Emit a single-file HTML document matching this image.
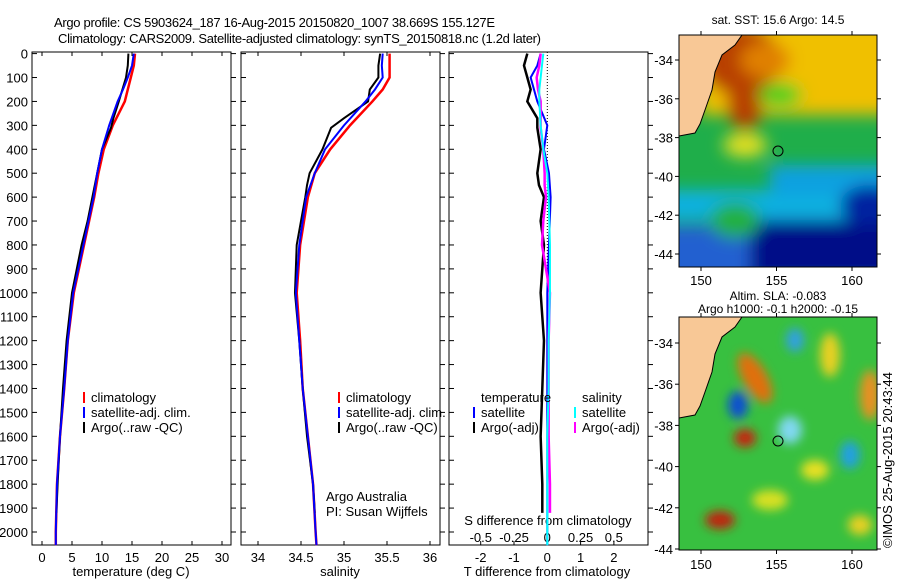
<!DOCTYPE html>
<html><head><meta charset="utf-8"><style>
body{margin:0;background:#fff;width:900px;height:580px;overflow:hidden;font-family:"Liberation Sans",sans-serif}
svg text{font-family:"Liberation Sans",sans-serif;font-size:13px;fill:#000}
</style></head><body>
<svg id="c" width="900" height="580" xmlns="http://www.w3.org/2000/svg">
<defs>
<filter id="bl" x="-50%" y="-50%" width="200%" height="200%"><feGaussianBlur stdDeviation="8"/></filter>
<filter id="bl2" x="-50%" y="-50%" width="200%" height="200%"><feGaussianBlur stdDeviation="5"/></filter>
<clipPath id="m1c"><rect x="679" y="35" width="198" height="232"/></clipPath>
<clipPath id="m2c"><rect x="679" y="317" width="198" height="233"/></clipPath>
</defs>
<text x="54" y="27" style="font-size:13px" textLength="441">Argo profile: CS 5903624_187 16-Aug-2015 20150820_1007 38.669S 155.127E</text>
<text x="58" y="43" style="font-size:13px" textLength="483">Climatology: CARS2009. Satellite-adjusted climatology: synTS_20150818.nc (1.2d later)</text>
<g id="g"></g>
<!-- map 1 -->
<g clip-path="url(#m1c)">
<rect x="679" y="35" width="198" height="232" fill="#1fae4a"/>
<g filter="url(#bl)">
<rect x="700" y="20" width="200" height="95" fill="#f0c000"/>
<ellipse cx="740" cy="60" rx="40" ry="35" fill="#b84000"/>
<ellipse cx="745" cy="105" rx="18" ry="25" fill="#b84000"/>
<ellipse cx="765" cy="60" rx="25" ry="18" fill="#e08000"/>
<ellipse cx="780" cy="95" rx="22" ry="12" fill="#40d020"/>
<ellipse cx="745" cy="145" rx="22" ry="12" fill="#e8e020"/>
<rect x="660" y="190" width="260" height="30" fill="#10b0e0"/>
<rect x="770" y="165" width="130" height="30" fill="#10a0e0"/>
<rect x="660" y="225" width="260" height="60" fill="#2060d0"/>
<rect x="750" y="220" width="160" height="60" fill="#000a88"/>
<ellipse cx="870" cy="205" rx="30" ry="20" fill="#0020a0"/>
<ellipse cx="735" cy="220" rx="25" ry="18" fill="#20b040"/>
</g>
<polygon points="679,35 742,35 735,45 722,55 715,72 712,90 705,110 700,124 695,133 679,136" fill="#f8c896" stroke="#000" stroke-width="1"/>
<circle cx="778" cy="151" r="5" fill="none" stroke="#000"/>
</g>
<rect x="679" y="35" width="198" height="232" fill="none" stroke="#000"/>
<!-- map 2 -->
<g clip-path="url(#m2c)">
<rect x="679" y="317" width="198" height="233" fill="#38c040"/>
<g filter="url(#bl2)">
<ellipse cx="755" cy="378" rx="12" ry="28" fill="#e07010" transform="rotate(-30 755 378)"/>
<ellipse cx="738" cy="405" rx="10" ry="14" fill="#1050d0"/>
<ellipse cx="745" cy="438" rx="11" ry="9" fill="#c82010"/>
<ellipse cx="795" cy="340" rx="9" ry="12" fill="#30a0e0"/>
<ellipse cx="830" cy="355" rx="10" ry="22" fill="#e8d020"/>
<ellipse cx="870" cy="395" rx="10" ry="25" fill="#e89020"/>
<ellipse cx="720" cy="520" rx="15" ry="9" fill="#c02010"/>
<ellipse cx="790" cy="430" rx="12" ry="14" fill="#80d8f0"/>
<ellipse cx="815" cy="470" rx="14" ry="10" fill="#e8e020"/>
<ellipse cx="770" cy="500" rx="18" ry="10" fill="#d8e020"/>
<ellipse cx="850" cy="455" rx="10" ry="14" fill="#20a0e0"/>
<ellipse cx="860" cy="525" rx="12" ry="10" fill="#e8d020"/>
</g>
<polygon points="679,317 742,317 735,327 722,337 715,354 712,372 705,392 700,406 695,415 679,418" fill="#f8c896" stroke="#000"/>
<circle cx="778" cy="441" r="5" fill="none" stroke="#000"/>
</g>
<rect x="679" y="317" width="198" height="233" fill="none" stroke="#000"/>
<text x="778" y="24" text-anchor="middle" style="font-size:12px">sat. SST: 15.6 Argo: 14.5</text>
<text x="778" y="300" text-anchor="middle" style="font-size:12px">Altim. SLA: -0.083</text>
<text x="778" y="313" text-anchor="middle" style="font-size:12px">Argo h1000: -0.1 h2000: -0.15</text>
<text x="892" y="548" transform="rotate(-90 892 548)">©IMOS 25-Aug-2015 20:43:44</text>
</svg>
<script>
const NS="http://www.w3.org/2000/svg";
const g=document.getElementById('g');
// ---- data ----
const depthTicks=[0,100,200,300,400,500,600,700,800,900,1000,1100,1200,1300,1400,1500,1600,1700,1800,1900,2000];
const tempTicks=[0,5,10,15,20,25,30];
const salTicks=[34,34.5,35,35.5,36];
const tdiffTicks=[-2,-1,0,1,2];
const sdiffTicks=[-0.5,-0.25,0,0.25,0.5];
const sdiffLabels=["-0.5","-0.25","0","0.25","0.5"];
const depths=[0,50,100,150,200,300,400,500,600,800,1000,1200,1400,1600,1800,2000,2055];
const tempClim=[15.5,15.3,14.8,14.3,13.8,11.8,10.3,9.4,8.7,7.0,5.3,4.3,3.7,3.0,2.5,2.3,2.3];
const tempSat=[15.3,15.0,14.3,13.5,12.6,11.2,10.0,9.2,8.6,6.9,5.2,4.3,3.7,3.0,2.5,2.3,2.3];
const argoDepths=[0,50,100,150,200,270,310,400,500,550,600,700,800,1000,1200,1400,1600,1800,1920];
const tempArgo=[14.4,14.3,14.0,13.4,12.8,11.9,11.5,10.0,9.2,8.8,8.4,7.6,6.6,5.0,4.1,3.5,3.0,2.6,2.4];
const salClim=[35.53,35.53,35.53,35.45,35.33,35.07,34.84,34.66,34.58,34.49,34.45,34.49,34.52,34.58,34.64,34.67,34.68];
const salSat=[35.45,35.44,35.45,35.36,35.25,35.0,34.78,34.66,34.56,34.48,34.44,34.48,34.52,34.58,34.64,34.67,34.68];
const salArgo=[35.42,35.4,35.4,35.3,35.28,35.0,34.85,34.75,34.6,34.57,34.55,34.5,34.45,34.43,34.48,34.52,34.57,34.64,34.66];
const tdiffSat=[-0.2,-0.3,-0.5,-0.4,-0.3,0,-0.1,0.05,0.1,0.05,0,0,0,0,0,0,0];
const tdiffArgo=[-0.6,-0.7,-0.6,-0.5,-0.6,-0.3,-0.3,-0.2,-0.3,-0.25,-0.1,-0.2,-0.1,-0.2,-0.1,-0.15,-0.2,-0.15,-0.15];
const sdiffSat=[-0.03,-0.04,-0.05,-0.06,-0.06,-0.05,-0.03,0,0.01,0.02,0.02,0.01,0.01,0,0,0,0];
const sdiffArgo=[-0.05,-0.06,-0.08,-0.07,-0.05,-0.05,-0.05,-0.03,-0.02,-0.02,-0.01,-0.03,-0.04,0.02,0.01,0.01,0.01,0.02,0.02];
const lonTicks=[150,155,160];
const latTicks=[-34,-36,-38,-40,-42,-44];
// ---- axes ----
const yD=d=>53.6+d*0.2392;
const xT=t=>42+t*6;
const xS=s=>258+(s-34)*86;
const xTD=t=>547.3+t*33.3;
const xSD=s=>547.3+s*133;
function el(t,a,txt){const e=document.createElementNS(NS,t);for(const k in a)e.setAttribute(k,a[k]);if(txt!==undefined)e.textContent=txt;g.appendChild(e);return e;}
const panels=[[32,'temperature-panel'],[241,'salinity-panel'],[449,'difference-panel']];
panels.forEach(([x0,n])=>{
 const r=el('rect',{x:x0,y:52,width:199,height:493,fill:'none',stroke:'#000'});
 
 
 depthTicks.forEach(d=>{
  const y=yD(d);
  el('line',{x1:x0,x2:x0+5,y1:y,y2:y,stroke:'#000'});
  el('line',{x1:x0+199,x2:x0+204,y1:y,y2:y,stroke:'#000'});
 });
});
depthTicks.forEach(d=>{
 const t=el('text',{x:28,y:yD(d)+5,'text-anchor':'end'},String(d));
 
 
});
function xticks(arr,f,labels,y,top){
 arr.forEach((v,i)=>{const x=f(v);
  el('line',{x1:x,x2:x,y1:545,y2:541,stroke:'#000'});
  if(top)el('line',{x1:x,x2:x,y1:52,y2:56,stroke:'#000'});
  const t=el('text',{x:x,y:y,'text-anchor':'middle'},labels?labels[i]:String(v));
  
  
 });
}
xticks(tempTicks,xT,null,562,true);
xticks(salTicks,xS,null,562,true);
xticks(tdiffTicks,xTD,null,562,false);
sdiffTicks.forEach((v,i)=>{const t=el('text',{x:xSD(v),y:542,'text-anchor':'middle'},sdiffLabels[i]);
 
 });
[[131,'temperature (deg C)','temperature-axis-title'],[340,'salinity','salinity-axis-title'],[547,'T difference from climatology','t-diff-axis-title']].forEach(([x,s,n])=>{
 const t=el('text',{x:x,y:576,'text-anchor':'middle'},s);
 
 
});
const st=el('text',{x:548,y:525,'text-anchor':'middle'},'S difference from climatology');


el('line',{x1:547.3,x2:547.3,y1:52,y2:545,stroke:'#000','stroke-dasharray':'1,2'});
function line(ds,vs,f,col,w,name){
 const p=el('polyline',{points:ds.map((d,i)=>f(vs[i])+','+yD(d)).join(' '),fill:'none',stroke:col,'stroke-width':w});
 
 
}
line(depths,tempClim,xT,'#f00',2.5,'temp-climatology-line');
line(argoDepths,tempArgo,xT,'#000',2,'temp-argo-line');
line(depths,tempSat,xT,'#00f',2,'temp-satellite-line');
line(depths,salClim,xS,'#f00',2.5,'sal-climatology-line');
line(argoDepths,salArgo,xS,'#000',2,'sal-argo-line');
line(depths,salSat,xS,'#00f',2,'sal-satellite-line');
line(argoDepths,tdiffArgo,xTD,'#000',2.5,'tdiff-argo-line');
line(depths,tdiffSat,xTD,'#00f',2,'tdiff-satellite-line');
line(argoDepths,sdiffArgo,xSD,'#f0f',2.5,'sdiff-argo-line');
line(depths,sdiffSat,xSD,'#0ff',2,'sdiff-satellite-line');
function leg(x,y,col,s,n){
 if(col)el('rect',{x:x,y:y-10,width:2,height:11,fill:col});
 const t=el('text',{x:x+8,y:y},s);
 
 
}
[[83],[338]].forEach(([x])=>{
 leg(x,402,'#f00','climatology','legend-climatology');
 leg(x,417,'#00f','satellite-adj. clim.','legend-satellite-adj');
 leg(x,432,'#000','Argo(..raw -QC)','legend-argo');
});
leg(473,402,null,'temperature','legend-temperature-header');
leg(473,417,'#00f','satellite','legend-t-satellite');
leg(473,432,'#000','Argo(-adj)','legend-t-argo');
leg(574,402,null,'salinity','legend-salinity-header');
leg(574,417,'#0ff','satellite','legend-s-satellite');
leg(574,432,'#f0f','Argo(-adj)','legend-s-argo');
leg(318,501,null,'Argo Australia','credit-argo-australia');
leg(318,516,null,'PI: Susan Wijffels','credit-pi');
// map ticks
[[35,267,60,19.4,285],[317,550,343,20.6,569]].forEach(([top,bot,y34,py,ly])=>{
 lonTicks.forEach(l=>{const x=701+(l-150)*15.1;
  el('line',{x1:x,x2:x,y1:top-4,y2:top,stroke:'#000'});
  el('line',{x1:x,x2:x,y1:bot,y2:bot+4,stroke:'#000'});
  const t=el('text',{x:x,y:ly,'text-anchor':'middle'},String(l));
  
  });
 latTicks.forEach(l=>{const y=y34+(-34-l)*py;
  el('line',{x1:675,x2:679,y1:y,y2:y,stroke:'#000'});
  el('line',{x1:877,x2:881,y1:y,y2:y,stroke:'#000'});
  const t=el('text',{x:673,y:y+5,'text-anchor':'end'},String(l));
  
  });
});
</script>
</body></html>
